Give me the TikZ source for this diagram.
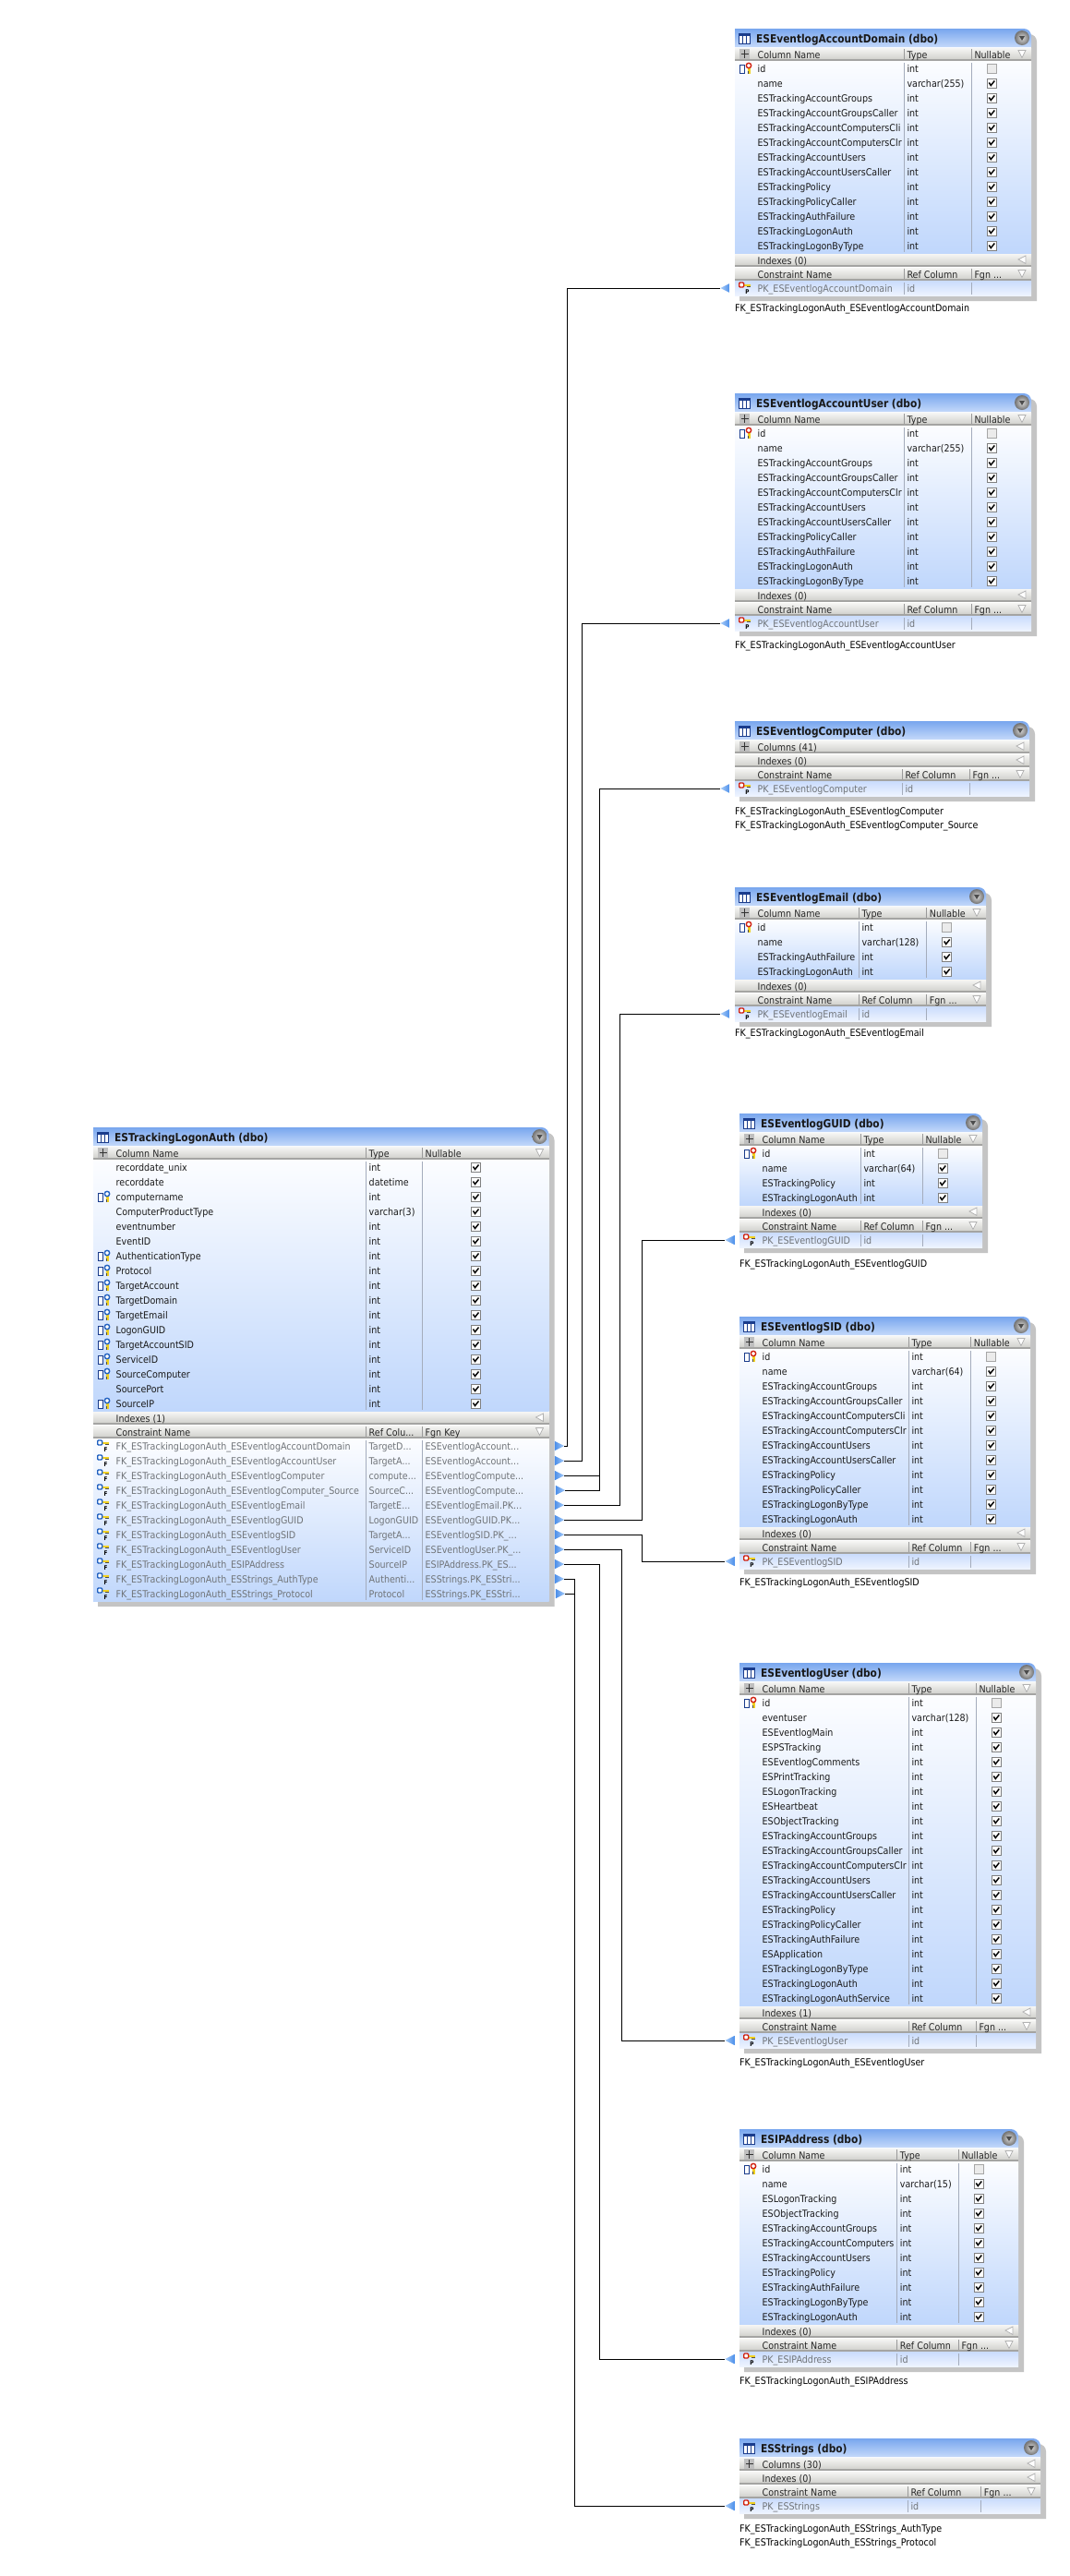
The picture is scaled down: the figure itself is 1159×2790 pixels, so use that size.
\documentclass[tikz,border=0pt]{standalone}
\usepackage{fontspec}
\newfontfamily\uif[FakeStretch=0.90]{DejaVu Sans}
\newfontfamily\uib[FakeStretch=0.87]{DejaVu Sans Bold}
\catcode`\_=12
\definecolor{titleT}{HTML}{78A6EE}
\definecolor{titleB}{HTML}{C4D9FA}
\definecolor{rowT}{HTML}{FCFDFF}
\definecolor{rowB}{HTML}{C0D7FC}
\definecolor{pkT}{HTML}{CADCFC}
\definecolor{pkB}{HTML}{EEF4FF}
\definecolor{bandT}{HTML}{F6F6F4}
\definecolor{bandB}{HTML}{D2D2CE}
\definecolor{bandL}{HTML}{A4A4A2}
\definecolor{shadowc}{HTML}{C4C4C4}
\definecolor{sepc}{HTML}{A4ACBC}
\definecolor{grayt}{HTML}{707478}
\definecolor{arrD}{HTML}{4A8EEA}
\definecolor{arrL}{HTML}{A8CCF8}
\definecolor{keyY}{HTML}{F0D020}
\definecolor{ringR}{HTML}{D02010}
\definecolor{ringB}{HTML}{2060C0}
\definecolor{iconB}{HTML}{1A3C8C}
\tikzset{
  cell/.style={anchor=base west,inner sep=0pt,font=\uif\fontsize{10.6}{12}\selectfont,text=black!90},
  hdr/.style={cell,text=black!85},
  gcell/.style={cell,text=grayt},
  captxt/.style={cell,text=black},
  ttl/.style={anchor=base west,inner sep=0pt,font=\uib\fontsize{12.2}{14}\selectfont,text=black!90},
  tinyl/.style={anchor=center,inner sep=0pt,font=\uib\fontsize{6.5}{7}\selectfont,text=black},
  sepln/.style={draw=sepc,line width=0.9pt},
  hsep/.style={draw=black!40,line width=0.8pt},
  arrowbox/.style={inner sep=0pt,minimum width=10pt,minimum height=10pt},
  conn/.style={draw=black,line width=0.9pt}
}
\newcount\erN
\newcommand{\ee}{...}
\newcommand{\erSetup}[6]{\def\tid{#1}\def\tL{#2}\def\tT{#3}\def\tR{#4}\def\tA{#5}\def\tB{#6}}
\newcommand{\erShell}[2]{%
  \fill[shadowc] (\tL+5,\tT+6) -- (\tR-4,\tT+6) [rounded corners=8pt] -- (\tR+6,\tT+6) [sharp corners] -- (\tR+6,#2+6) -- (\tL+5,#2+6) -- cycle;
  \fill[white] (\tL,\tT+20) rectangle (\tR,#2);
  \shade[top color=titleT,bottom color=titleB] (\tL,\tT) -- (\tR-8,\tT) [rounded corners=8pt] -- (\tR,\tT) [sharp corners] -- (\tR,\tT+20) -- (\tL,\tT+20) -- cycle;
  \draw[iconB,fill=white,line width=1pt] (\tL+4,\tT+5.5) rectangle (\tL+16,\tT+16);
  \fill[iconB] (\tL+4,\tT+5) rectangle (\tL+16,\tT+7.5);
  \draw[iconB,line width=0.9pt] (\tL+8,\tT+6) -- (\tL+8,\tT+16) (\tL+12,\tT+6) -- (\tL+12,\tT+16);
  \node[ttl,name=\tid-title] at (\tL+23,\tT+15) {#1};
  \shade[inner color=black!15,outer color=black!55] (\tR-10,\tT+10) circle (8);
  \fill[black!70] (\tR-13,\tT+8) -- (\tR-7,\tT+8) -- (\tR-10,\tT+13) -- cycle;
}
\newcommand{\erBand}[3]{%
  \shade[top color=bandT,bottom color=bandB] (\tL,#1+1) rectangle (\tR,#1+13);
  \fill[bandL] (\tL,#1+13) rectangle (\tR,#1+14.5);
  \node[hdr,name=\tid-#2] at (\tL+24.5,#1+12) {#3};
}
\newcommand{\triDown}[1]{\draw[black!30,line width=0.8pt,fill=white] (\tR-14,#1+3.5) -- (\tR-6,#1+3.5) -- (\tR-10,#1+11.5) -- cycle;}
\newcommand{\triLeft}[1]{\draw[black!30,line width=0.8pt,fill=white] (\tR-6,#1+3) -- (\tR-6,#1+11.5) -- (\tR-14,#1+7) -- cycle;}
\newcommand{\plusIcon}[1]{%
  \fill[black!25] (\tL+5,#1+2) rectangle (\tL+16,#1+13);
  \draw[black!80,line width=1.3pt] (\tL+6.5,#1+7.5) -- (\tL+14.5,#1+7.5) (\tL+10.5,#1+3) -- (\tL+10.5,#1+12);
}
\newcommand{\colHdr}[5]{% y, name, text1, text2, text3
  \erBand{#1}{#2}{#3}
  \draw[hsep] (\tA,#1+2) -- (\tA,#1+13) (\tB,#1+2) -- (\tB,#1+13);
  \node[hdr,name=\tid-#2a] at (\tA+3,#1+12) {#4};
  \node[hdr,name=\tid-#2b] at (\tB+3,#1+12) {#5};
  \triDown{#1}
}
\newcommand{\colKey}[3]{% x,y,ring
  \draw[iconB,fill=white,line width=0.9pt] (#1,#2-4) rectangle (#1+4.5,#2+5);
  \fill[keyY] (#1+8,#2-1) rectangle (#1+11,#2+6);
  \fill[black!70] (#1+8,#2+3) rectangle (#1+9,#2+6);
  \draw[#3,fill=white,line width=1.4pt] (#1+9.5,#2-3) circle (2.7);
}
\newcommand{\conKey}[5]{% x,y,ring,letter,name
  \fill[keyY] (#1+5,#2-4.5) rectangle (#1+13,#2-2);
  \fill[black!70] (#1+9,#2-2.2) rectangle (#1+13,#2-1.2);
  \draw[#3,fill=white,line width=1.4pt,rounded corners=1pt] (#1+0.7,#2-6) rectangle (#1+5.7,#2-1);
  \node[tinyl,name=#5] at (#1+9.5,#2+4) {#4};
}
\newcommand{\checkBox}[2]{%
  \draw[black!50,fill=white,line width=1pt] (#1-5,#2-5) rectangle (#1+5,#2+5);
  \draw[black,line width=1.5pt] (#1-3,#2-0.5) -- (#1-1,#2+2.5) -- (#1+3,#2-2.5);
}
\newcommand{\noBox}[2]{\draw[black!35,fill=black!8,line width=1pt] (#1-5,#2-5) rectangle (#1+5,#2+5);}
\newcommand{\erRows}[2]{%
  \global\erN=0
  \foreach \cn in {#2}{\global\advance\erN by 1}
  \pgfmathsetmacro\ya{#1}
  \pgfmathsetmacro\yb{#1+16*\the\erN}
  \shade[top color=rowT,bottom color=rowB] (\tL,\ya) rectangle (\tR,\yb);
  \draw[sepln] (\tA,\ya+2) -- (\tA,\yb-1) (\tB,\ya+2) -- (\tB,\yb-1);
  \foreach \cn/\ct/\ck [count=\ri] in {#2}{
    \pgfmathsetmacro\yc{\ya+8+16*(\ri-1)}
    \node[cell,name=\tid-c\ri] at (\tL+24.5,\yc+4) {\cn};
    \node[cell,name=\tid-t\ri] at (\tA+3,\yc+4) {\ct};
    \if\ck p \colKey{\tL+5.5}{\yc}{ringR}\noBox{\tB+\chkoff}{\yc}\else
      \if\ck f \colKey{\tL+5.5}{\yc}{ringB}\fi
      \checkBox{\tB+\chkoff}{\yc}\fi
  }
}
\newcommand{\erTail}[3]{% y, indexes text, pk name
  \erBand{#1}{idx}{#2}\triLeft{#1}
  \colHdr{#1+15}{con}{Constraint Name}{\refhdr}{\fgnhdr}
  \shade[top color=pkT,bottom color=pkB] (\tL,#1+30) rectangle (\tR,#1+46);
  \draw[sepln] (\tA,#1+32) -- (\tA,#1+44.5) (\tB,#1+32) -- (\tB,#1+44.5);
  \conKey{\tL+4}{#1+38}{ringR}{P}{\tid-pkl}
  \node[gcell,name=\tid-pk] at (\tL+24.5,#1+42) {#3};
  \node[gcell,name=\tid-pkr] at (\tA+3,#1+42) {id};
}
% full table: id,title,L,T,R,A,B,rows,(idx text),(pk)
\newcommand{\erTable}[9]{%
  \erSetup{#1}{#3}{#4}{#5}{#6}{#7}
  \global\erN=0
  \foreach \cn in {#8}{\global\advance\erN by 1}
  \pgfmathsetmacro\yt{#4+35+16*\the\erN}
  \erShell{#2}{\yt+46}
  \colHdr{#4+20}{hdr}{Column Name}{Type}{Nullable}
  \plusIcon{#4+20}
  \erRows{#4+35}{#8}
  \erTail{\yt}{#9}{PK_#1}
}
\newcommand{\erColl}[8]{% id,title,L,T,R,A,B,count text
  \erSetup{#1}{#3}{#4}{#5}{#6}{#7}
  \erShell{#2}{#4+81}
  \erBand{#4+20}{cols}{#8}\triLeft{#4+20}\plusIcon{#4+20}
  \erTail{#4+35}{Indexes (0)}{PK_#1}
}
\newcommand{\srcA}[3]{%
  \node[arrowbox,name=#1] at (#2,#3) {};
  \shade[left color=arrD,right color=arrL] (#1.north west) -- (#1.east) -- (#1.south west) -- cycle;
}
\newcommand{\tgtA}[3]{%
  \node[arrowbox,name=#1] at (#2,#3) {};
  \shade[left color=arrL,right color=arrD] (#1.north east) -- (#1.west) -- (#1.south east) -- cycle;
}
\begin{document}
\begin{tikzpicture}[x=1pt,y=-1pt]
\fill[white] (0,0) rectangle (1159,2790);
\useasboundingbox (0,0) rectangle (1159,2790);
\def\refhdr{Ref Colu...}\def\fgnhdr{Fgn Key}\def\chkoff{58}
% ---- main table
\erSetup{main}{101}{1221}{594.5}{396.5}{457.5}
\erShell{ESTrackingLogonAuth (dbo)}{1734}
\colHdr{1241}{hdr}{Column Name}{Type}{Nullable}\plusIcon{1241}
\erRows{1256}{recorddate_unix/int/n,recorddate/datetime/n,computername/int/f,ComputerProductType/varchar(3)/n,eventnumber/int/n,EventID/int/n,AuthenticationType/int/f,Protocol/int/f,TargetAccount/int/f,TargetDomain/int/f,TargetEmail/int/f,LogonGUID/int/f,TargetAccountSID/int/f,ServiceID/int/f,SourceComputer/int/f,SourcePort/int/n,SourceIP/int/f}
\erBand{1528}{idx}{Indexes (1)}\triLeft{1528}
\colHdr{1543}{con}{Constraint Name}{\refhdr}{\fgnhdr}
\shade[top color=rowT,bottom color=rowB] (\tL,1558) rectangle (\tR,1734);
\draw[sepln] (\tA,1560) -- (\tA,1733) (\tB,1560) -- (\tB,1733);
\foreach \cn/\cr/\cf [count=\ri] in {
FK_ESTrackingLogonAuth_ESEventlogAccountDomain/TargetD\ee/ESEventlogAccount\ee,
FK_ESTrackingLogonAuth_ESEventlogAccountUser/TargetA\ee/ESEventlogAccount\ee,
FK_ESTrackingLogonAuth_ESEventlogComputer/compute\ee/ESEventlogCompute\ee,
FK_ESTrackingLogonAuth_ESEventlogComputer_Source/SourceC\ee/ESEventlogCompute\ee,
FK_ESTrackingLogonAuth_ESEventlogEmail/TargetE\ee/ESEventlogEmail.PK\ee,
FK_ESTrackingLogonAuth_ESEventlogGUID/LogonGUID/ESEventlogGUID.PK\ee,
FK_ESTrackingLogonAuth_ESEventlogSID/TargetA\ee/ESEventlogSID.PK_\ee,
FK_ESTrackingLogonAuth_ESEventlogUser/ServiceID/ESEventlogUser.PK_\ee,
FK_ESTrackingLogonAuth_ESIPAddress/SourceIP/ESIPAddress.PK_ES\ee,
FK_ESTrackingLogonAuth_ESStrings_AuthType/Authenti\ee/ESStrings.PK_ESStri\ee,
FK_ESTrackingLogonAuth_ESStrings_Protocol/Protocol/ESStrings.PK_ESStri\ee}{
  \pgfmathsetmacro\yc{1566+16*(\ri-1)}
  \conKey{\tL+4}{\yc}{ringB}{F}{fkl\ri}
  \node[gcell,name=fkn\ri] at (\tL+24.5,\yc+4) {\cn};
  \node[gcell,name=fkr\ri] at (\tA+3,\yc+4) {\cr};
  \node[gcell,name=fkf\ri] at (\tB+3,\yc+4) {\cf};
}
% ---- target tables
\def\refhdr{Ref Column}\def\fgnhdr{Fgn ...}\def\chkoff{22}
\erTable{ESEventlogAccountDomain}{ESEventlogAccountDomain (dbo)}{796}{31}{1117}{979.3}{1052.3}{id/int/p,name/varchar(255)/n,ESTrackingAccountGroups/int/n,ESTrackingAccountGroupsCaller/int/n,ESTrackingAccountComputersCli/int/n,ESTrackingAccountComputersClr/int/n,ESTrackingAccountUsers/int/n,ESTrackingAccountUsersCaller/int/n,ESTrackingPolicy/int/n,ESTrackingPolicyCaller/int/n,ESTrackingAuthFailure/int/n,ESTrackingLogonAuth/int/n,ESTrackingLogonByType/int/n}{Indexes (0)}
\erTable{ESEventlogAccountUser}{ESEventlogAccountUser (dbo)}{796}{426}{1117}{979.3}{1052.3}{id/int/p,name/varchar(255)/n,ESTrackingAccountGroups/int/n,ESTrackingAccountGroupsCaller/int/n,ESTrackingAccountComputersClr/int/n,ESTrackingAccountUsers/int/n,ESTrackingAccountUsersCaller/int/n,ESTrackingPolicyCaller/int/n,ESTrackingAuthFailure/int/n,ESTrackingLogonAuth/int/n,ESTrackingLogonByType/int/n}{Indexes (0)}
\erColl{ESEventlogComputer}{ESEventlogComputer (dbo)}{796}{781}{1115}{977.3}{1050.3}{Columns (41)}
\erTable{ESEventlogEmail}{ESEventlogEmail (dbo)}{796}{961}{1068}{930.3}{1003.7}{id/int/p,name/varchar(128)/n,ESTrackingAuthFailure/int/n,ESTrackingLogonAuth/int/n}{Indexes (0)}
\erTable{ESEventlogGUID}{ESEventlogGUID (dbo)}{801}{1206}{1064}{932.3}{999.3}{id/int/p,name/varchar(64)/n,ESTrackingPolicy/int/n,ESTrackingLogonAuth/int/n}{Indexes (0)}
\erTable{ESEventlogSID}{ESEventlogSID (dbo)}{801}{1426}{1116}{984.3}{1051.7}{id/int/p,name/varchar(64)/n,ESTrackingAccountGroups/int/n,ESTrackingAccountGroupsCaller/int/n,ESTrackingAccountComputersCli/int/n,ESTrackingAccountComputersClr/int/n,ESTrackingAccountUsers/int/n,ESTrackingAccountUsersCaller/int/n,ESTrackingPolicy/int/n,ESTrackingPolicyCaller/int/n,ESTrackingLogonByType/int/n,ESTrackingLogonAuth/int/n}{Indexes (0)}
\erTable{ESEventlogUser}{ESEventlogUser (dbo)}{801}{1801}{1122}{984.3}{1057.3}{id/int/p,eventuser/varchar(128)/n,ESEventlogMain/int/n,ESPSTracking/int/n,ESEventlogComments/int/n,ESPrintTracking/int/n,ESLogonTracking/int/n,ESHeartbeat/int/n,ESObjectTracking/int/n,ESTrackingAccountGroups/int/n,ESTrackingAccountGroupsCaller/int/n,ESTrackingAccountComputersClr/int/n,ESTrackingAccountUsers/int/n,ESTrackingAccountUsersCaller/int/n,ESTrackingPolicy/int/n,ESTrackingPolicyCaller/int/n,ESTrackingAuthFailure/int/n,ESApplication/int/n,ESTrackingLogonByType/int/n,ESTrackingLogonAuth/int/n,ESTrackingLogonAuthService/int/n}{Indexes (1)}
\erTable{ESIPAddress}{ESIPAddress (dbo)}{801}{2306}{1103}{971.7}{1038.3}{id/int/p,name/varchar(15)/n,ESLogonTracking/int/n,ESObjectTracking/int/n,ESTrackingAccountGroups/int/n,ESTrackingAccountComputers/int/n,ESTrackingAccountUsers/int/n,ESTrackingPolicy/int/n,ESTrackingAuthFailure/int/n,ESTrackingLogonByType/int/n,ESTrackingLogonAuth/int/n}{Indexes (0)}
\erColl{ESStrings}{ESStrings (dbo)}{801}{2641}{1127}{983.3}{1062.7}{Columns (30)}
% ---- captions
\node[captxt,name=cap1] at (796,337) {FK_ESTrackingLogonAuth_ESEventlogAccountDomain};
\node[captxt,name=cap2] at (796,702) {FK_ESTrackingLogonAuth_ESEventlogAccountUser};
\node[captxt,name=cap3] at (796,882) {FK_ESTrackingLogonAuth_ESEventlogComputer};
\node[captxt,name=cap4] at (796,897) {FK_ESTrackingLogonAuth_ESEventlogComputer_Source};
\node[captxt,name=cap5] at (796,1122) {FK_ESTrackingLogonAuth_ESEventlogEmail};
\node[captxt,name=cap6] at (801,1372) {FK_ESTrackingLogonAuth_ESEventlogGUID};
\node[captxt,name=cap7] at (801,1717) {FK_ESTrackingLogonAuth_ESEventlogSID};
\node[captxt,name=cap8] at (801,2237) {FK_ESTrackingLogonAuth_ESEventlogUser};
\node[captxt,name=cap9] at (801,2582) {FK_ESTrackingLogonAuth_ESIPAddress};
\node[captxt,name=cap10] at (801,2742) {FK_ESTrackingLogonAuth_ESStrings_AuthType};
\node[captxt,name=cap11] at (801,2757) {FK_ESTrackingLogonAuth_ESStrings_Protocol};
% ---- arrowheads
\srcA{s1}{606}{1566}\srcA{s2}{606}{1582}\srcA{s3}{606}{1598}\srcA{s4}{607}{1614}
\srcA{s5}{606}{1630}\srcA{s6}{606}{1646}\srcA{s7}{606}{1662}\srcA{s8}{606}{1678}
\srcA{s9}{606}{1694}\srcA{s10}{606}{1710}\srcA{s11}{607}{1726}
\tgtA{t1}{785.5}{312}\tgtA{t2}{785.5}{675}\tgtA{t3}{785.5}{854}\tgtA{t4}{785.5}{1098}
\tgtA{t5}{790.5}{1343}\tgtA{t6}{790.5}{1691}\tgtA{t7}{790.5}{2210}\tgtA{t8}{790.5}{2555}\tgtA{t9}{790.5}{2714}
% ---- connector routes
\coordinate (bus1) at (614.3,0);
\coordinate (bus2) at (630.7,0);
\coordinate (bus3) at (649.5,0);
\coordinate (bus4) at (671.5,0);
\coordinate (bus5) at (695.5,0);
\coordinate (bus6) at (673.5,0);
\coordinate (bus7) at (622.5,0);
\draw[conn] (s1.east) -| (bus1 |- t1.west) -- (t1.west);
\draw[conn] (s2.east) -| (bus2 |- t2.west) -- (t2.west);
\draw[conn] (s3.east) -| (bus3 |- t3.west) -- (t3.west);
\draw[conn] (s4.east) -| (bus3 |- t3.west) -- (t3.west);
\draw[conn] (s5.east) -| (bus4 |- t4.west) -- (t4.west);
\draw[conn] (s6.east) -| (bus5 |- t5.west) -- (t5.west);
\draw[conn] (s7.east) -| (bus5 |- t6.west) -- (t6.west);
\draw[conn] (s8.east) -| (bus6 |- t7.west) -- (t7.west);
\draw[conn] (s9.east) -| (bus3 |- t8.west) -- (t8.west);
\draw[conn] (s10.east) -| (bus7 |- t9.west) -- (t9.west);
\draw[conn] (s11.east) -| (bus7 |- t9.west) -- (t9.west);
\end{tikzpicture}
\end{document}
